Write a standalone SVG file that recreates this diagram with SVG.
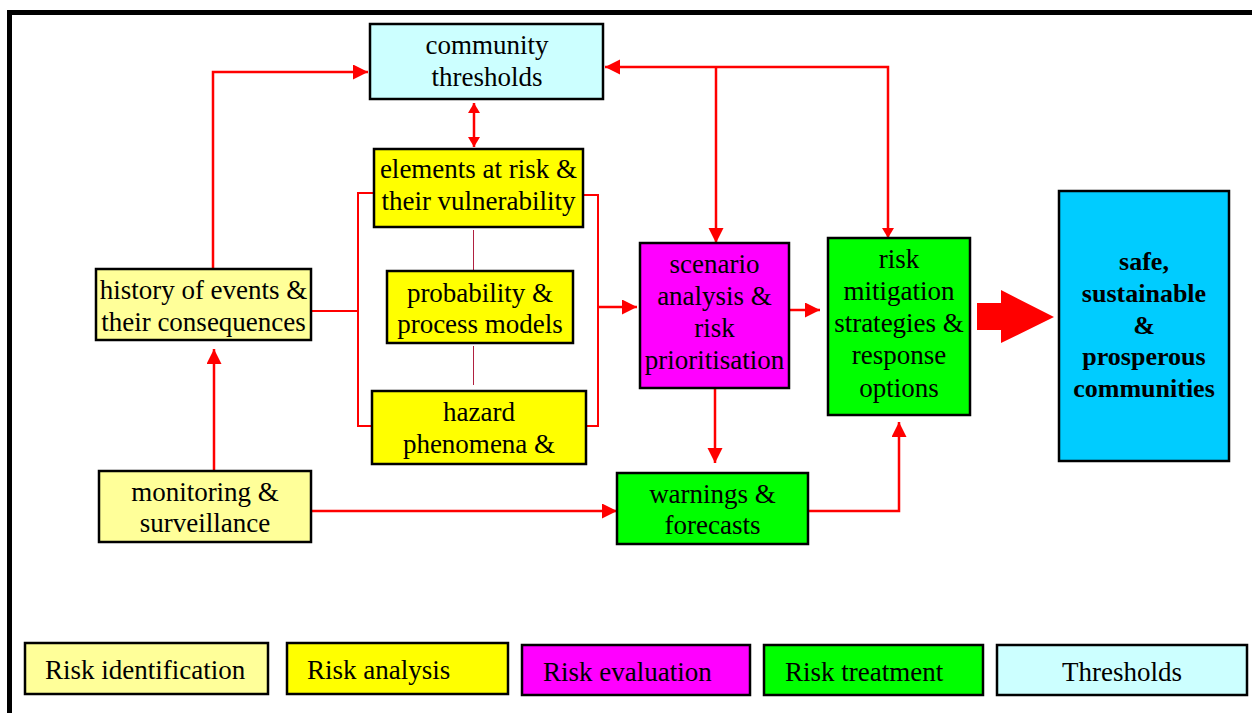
<svg xmlns="http://www.w3.org/2000/svg" width="1252" height="713" viewBox="0 0 1252 713">
<defs>
<style>
.box{stroke:#000;stroke-width:2.5}
.t{font-family:"Liberation Serif","Times New Roman",serif;font-size:27px;fill:#000;text-anchor:middle}
.tb{font-family:"Liberation Serif","Times New Roman",serif;font-size:26px;font-weight:bold;fill:#000;text-anchor:middle}
.lt{font-family:"Liberation Serif","Times New Roman",serif;font-size:27px;fill:#000}
.c{fill:none;stroke:#FF0000;stroke-width:2.5}
.br{fill:none;stroke:#FF0000;stroke-width:2}
.thin{fill:none;stroke:#B02040;stroke-width:1}
.ident{fill:#FFFF99}.anal{fill:#FFFF00}.eval{fill:#FF00FF}.treat{fill:#00FF00}.thr{fill:#CCFFFF}.goal{fill:#00CCFF}
</style>
<marker id="ah" markerUnits="userSpaceOnUse" markerWidth="16" markerHeight="16" refX="15" refY="7.5" orient="auto">
<path d="M0,0 L15,7.5 L0,15 Z" fill="#FF0000"/>
</marker>
<marker id="ahs" markerUnits="userSpaceOnUse" markerWidth="12" markerHeight="12" refX="10" refY="6" orient="auto">
<path d="M0,0 L10,6 L0,12 Z" fill="#FF0000"/>
</marker>
<marker id="ahsr" markerUnits="userSpaceOnUse" markerWidth="12" markerHeight="12" refX="0" refY="6" orient="auto">
<path d="M10,0 L0,6 L10,12 Z" fill="#FF0000"/>
</marker>
</defs>
<rect x="0" y="0" width="1252" height="713" fill="#FFFFFF"/>
<rect x="9.5" y="12.5" width="1270" height="730" fill="none" stroke="#000" stroke-width="5"/>

<g id="connectors">
<polyline class="c" points="213,269 213,72 368,72" marker-end="url(#ah)"/>
<line class="c" x1="214" y1="471" x2="214" y2="349" marker-end="url(#ah)"/>
<line class="c" x1="474" y1="103" x2="474" y2="147" marker-start="url(#ahsr)" marker-end="url(#ahs)"/>
<polyline class="c" points="888,238 888,67 605,67" marker-start="url(#ahsr)" marker-end="url(#ah)"/>
<line class="c" x1="716" y1="67" x2="716" y2="243" marker-end="url(#ah)"/>
<line class="c" x1="311" y1="511" x2="617" y2="511" marker-end="url(#ah)"/>
<line class="c" x1="715" y1="389" x2="715" y2="463" marker-end="url(#ah)"/>
<polyline class="c" points="808,511 899,511 899,422" marker-end="url(#ah)"/>
<line class="c" x1="789" y1="310" x2="820" y2="310" marker-end="url(#ah)"/>
<polyline class="br" points="374,193 358,193 358,426 372,426"/>
<line class="br" x1="311" y1="311" x2="358" y2="311"/>
<polyline class="br" points="584,195 598,195 598,426 586,426"/>
<line class="c" x1="598" y1="307" x2="637" y2="307" marker-end="url(#ah)"/>
<line class="thin" x1="473.5" y1="230" x2="473.5" y2="272"/>
<line class="thin" x1="473.5" y1="346" x2="473.5" y2="385"/>
<polygon points="977,303 1001,303 1001,290 1054,317 1001,343 1001,330 977,330" fill="#FF0000"/>
</g>

<g id="community-thresholds">
<rect class="box thr" x="370" y="24" width="233" height="75"/>
<text class="t" x="487" y="54">community</text>
<text class="t" x="487" y="86">thresholds</text>
</g>
<g id="elements-at-risk">
<rect class="box anal" x="374" y="149" width="209" height="78"/>
<text class="t" x="478.5" y="178">elements at risk &amp;</text>
<text class="t" x="478.5" y="210">their vulnerability</text>
</g>
<g id="probability">
<rect class="box anal" x="387" y="271" width="186" height="72"/>
<text class="t" x="480" y="302">probability &amp;</text>
<text class="t" x="480" y="333">process models</text>
</g>
<g id="hazard">
<rect class="box anal" x="372" y="391" width="214" height="73"/>
<text class="t" x="479" y="421">hazard</text>
<text class="t" x="479" y="453">phenomena &amp;</text>
</g>
<g id="history">
<rect class="box ident" x="96" y="269" width="215" height="71"/>
<text class="t" x="203.5" y="299">history of events &amp;</text>
<text class="t" x="203.5" y="331">their consequences</text>
</g>
<g id="monitoring">
<rect class="box ident" x="99" y="471" width="212" height="71"/>
<text class="t" x="205" y="501">monitoring &amp;</text>
<text class="t" x="205" y="532">surveillance</text>
</g>
<g id="scenario">
<rect class="box eval" x="640" y="243" width="149" height="145"/>
<text class="t" x="714.5" y="273">scenario</text>
<text class="t" x="714.5" y="305">analysis &amp;</text>
<text class="t" x="714.5" y="337">risk</text>
<text class="t" x="714.5" y="369">prioritisation</text>
</g>
<g id="risk-mitigation">
<rect class="box treat" x="828" y="238" width="142" height="177"/>
<text class="t" x="899" y="268">risk</text>
<text class="t" x="899" y="300">mitigation</text>
<text class="t" x="899" y="332">strategies &amp;</text>
<text class="t" x="899" y="364">response</text>
<text class="t" x="899" y="397">options</text>
</g>
<g id="warnings">
<rect class="box treat" x="617" y="473" width="191" height="71"/>
<text class="t" x="712.5" y="503">warnings &amp;</text>
<text class="t" x="712.5" y="534">forecasts</text>
</g>
<g id="safe-communities">
<rect class="box goal" x="1059" y="191" width="170" height="270"/>
<text class="tb" x="1144" y="270">safe,</text>
<text class="tb" x="1144" y="302">sustainable</text>
<text class="tb" x="1144" y="334">&amp;</text>
<text class="tb" x="1144" y="365">prosperous</text>
<text class="tb" x="1144" y="397">communities</text>
</g>

<g id="legend-identification">
<rect class="box ident" x="25" y="643" width="243" height="51"/>
<text class="lt" x="45" y="679">Risk identification</text>
</g>
<g id="legend-analysis">
<rect class="box anal" x="287" y="643" width="221" height="51"/>
<text class="lt" x="307" y="679">Risk analysis</text>
</g>
<g id="legend-evaluation">
<rect class="box eval" x="522" y="645" width="228" height="50"/>
<text class="lt" x="543" y="681">Risk evaluation</text>
</g>
<g id="legend-treatment">
<rect class="box treat" x="764" y="645" width="219" height="50"/>
<text class="lt" x="785" y="681">Risk treatment</text>
</g>
<g id="legend-thresholds">
<rect class="box thr" x="997" y="645" width="250" height="50"/>
<text class="t" x="1122" y="681">Thresholds</text>
</g>
</svg>
